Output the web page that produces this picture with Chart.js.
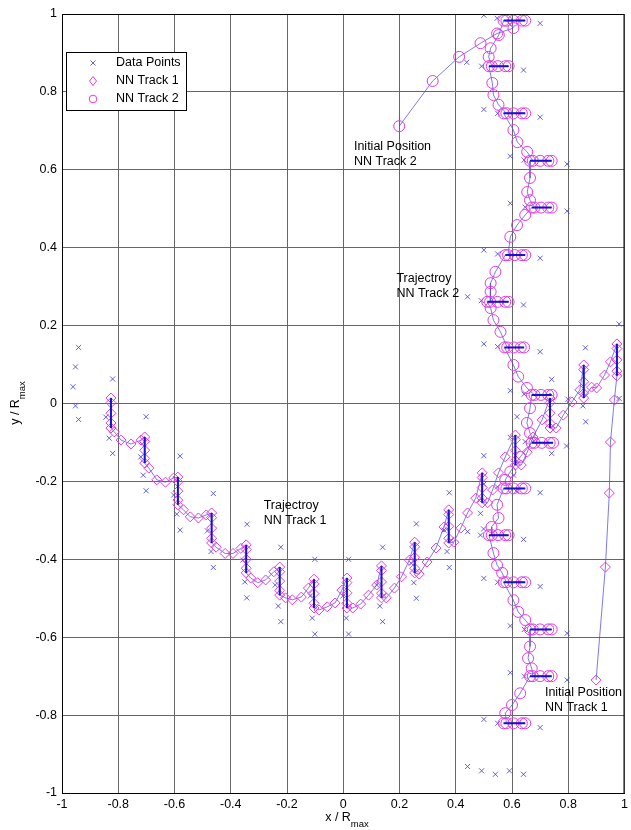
<!DOCTYPE html>
<html>
<head>
<meta charset="utf-8">
<script src="https://cdn.jsdelivr.net/npm/chart.js@4.4.0/dist/chart.umd.min.js"></script>
<style>
  html, body { margin: 0; padding: 0; background: #fff; }
</style>
</head>
<body>
<canvas id="my-chart" width="631" height="830"></canvas>
<script>
const xTickLabels = ['-1', '-0.8', '-0.6', '-0.4', '-0.2', '0', '0.2', '0.4', '0.6', '0.8', '1'];
const yTickLabels = ['-1', '-0.8', '-0.6', '-0.4', '-0.2', '0', '0.2', '0.4', '0.6', '0.8', '1'];

// measured positions (x marks)
const crossX = [
  -0.941, -0.952, -0.961, -0.952, -0.941,
  -0.820, -0.844, -0.832, -0.820,
  -0.701, -0.720, -0.711, -0.701,
  -0.580, -0.603, -0.592, -0.580,
  -0.462, -0.483, -0.470, -0.462,
  -0.342, -0.357, -0.350, -0.343,
  -0.222, -0.242, -0.231, -0.222,
  -0.101, -0.117, -0.110, -0.101,
  0.019, -0.001, 0.011, 0.019,
  0.140, 0.119, 0.130, 0.140,
  0.260, 0.242, 0.251, 0.260,
  0.377, 0.358, 0.369, 0.377,
  0.500, 0.488, 0.499,
  0.618, 0.606, 0.615,
  0.741, 0.741,
  0.861, 0.852, 0.862,
  0.981, 0.981,
  0.500, 0.547, 0.700,
  0.439, 0.492, 0.641,
  0.500, 0.549, 0.700,
  0.594, 0.643, 0.796,
  0.594, 0.647, 0.796,
  0.500, 0.549, 0.700,
  0.442, 0.491, 0.641,
  0.500, 0.549, 0.700,
  0.594, 0.643, 0.799,
  0.594, 0.647, 0.794,
  0.500, 0.548, 0.700,
  0.442, 0.488, 0.641,
  0.500, 0.549, 0.700,
  0.594, 0.644, 0.796,
  0.594, 0.644, 0.796,
  0.500, 0.549, 0.700,
  0.442, 0.492, 0.541, 0.591, 0.641
];
const crossY = [
  0.144, 0.094, 0.043, -0.006, -0.041,
  0.063, -0.035, -0.089, -0.128,
  -0.034, -0.137, -0.184, -0.224,
  -0.135, -0.235, -0.284, -0.325,
  -0.231, -0.327, -0.380, -0.421,
  -0.310, -0.402, -0.458, -0.499,
  -0.369, -0.466, -0.520, -0.560,
  -0.400, -0.494, -0.551, -0.592,
  -0.400, -0.494, -0.551, -0.592,
  -0.369, -0.466, -0.520, -0.560,
  -0.309, -0.410, -0.460, -0.500,
  -0.229, -0.325, -0.380, -0.421,
  -0.134, -0.282, -0.322,
  -0.034, -0.184, -0.225,
  0.062, -0.128,
  0.143, -0.006, -0.047,
  0.204, 0.013,
  0.997, 0.989, 0.976,
  0.876, 0.866, 0.856,
  0.755, 0.745, 0.735,
  0.635, 0.625, 0.615,
  0.514, 0.504, 0.494,
  0.394, 0.384, 0.373,
  0.274, 0.264, 0.253,
  0.153, 0.146, 0.133,
  0.033, 0.024, 0.011,
  -0.087, -0.098, -0.109,
  -0.207, -0.214, -0.229,
  -0.329, -0.338, -0.349,
  -0.449, -0.459, -0.470,
  -0.571, -0.580, -0.590,
  -0.691, -0.700, -0.710,
  -0.811, -0.821, -0.832,
  -0.932, -0.943, -0.952, -0.943, -0.952
];

// NN track 1: vertical stacks at each station, then steps to the next station
const t1StationX = [-0.826, -0.706, -0.588, -0.468, -0.345, -0.226, -0.104, 0.013,
  0.136, 0.254, 0.375, 0.494, 0.612, 0.735, 0.855, 0.973];
const t1StackY = [
  [0.014, 0.002, -0.025, -0.050, -0.063],
  [-0.086, -0.098, -0.120, -0.141, -0.153],
  [-0.189, -0.201, -0.225, -0.248, -0.260],
  [-0.281, -0.293, -0.320, -0.346, -0.358],
  [-0.363, -0.375, -0.400, -0.423, -0.435],
  [-0.420, -0.432, -0.456, -0.480, -0.492],
  [-0.451, -0.463, -0.488, -0.513, -0.525],
  [-0.448, -0.460, -0.486, -0.513, -0.525],
  [-0.417, -0.429, -0.458, -0.487, -0.499],
  [-0.356, -0.368, -0.395, -0.423, -0.435],
  [-0.273, -0.285, -0.315, -0.346, -0.358],
  [-0.178, -0.190, -0.216, -0.243, -0.255],
  [-0.081, -0.093, -0.120, -0.146, -0.158],
  [0.014, 0.002, -0.025, -0.051, -0.063],
  [0.099, 0.087, 0.056, 0.026, 0.014],
  [0.153, 0.141, 0.112, 0.083, 0.071]
];
const t1StepX = [
  [-0.814, -0.790, -0.755, -0.719],
  [-0.691, -0.663, -0.632, -0.603],
  [-0.568, -0.544, -0.515, -0.487],
  [-0.452, -0.420, -0.392, -0.364],
  [-0.329, -0.304, -0.276, -0.247],
  [-0.205, -0.181, -0.149, -0.124],
  [-0.086, -0.057, -0.029, -0.005],
  [0.034, 0.062, 0.090, 0.119],
  [0.153, 0.182, 0.207, 0.235],
  [0.270, 0.298, 0.330, 0.358],
  [0.393, 0.418, 0.442, 0.471],
  [0.513, 0.531, 0.552, 0.576],
  [0.633, 0.654, 0.675, 0.707],
  [0.757, 0.782, 0.813, 0.841],
  [0.883, 0.901, 0.929, 0.950]
];
const t1StepY = [
  [-0.073, -0.094, -0.104, -0.094],
  [-0.166, -0.196, -0.202, -0.191],
  [-0.273, -0.291, -0.294, -0.286],
  [-0.369, -0.385, -0.385, -0.372],
  [-0.448, -0.460, -0.453, -0.432],
  [-0.499, -0.504, -0.497, -0.474],
  [-0.530, -0.522, -0.512, -0.479],
  [-0.525, -0.515, -0.492, -0.466],
  [-0.499, -0.474, -0.445, -0.402],
  [-0.438, -0.407, -0.371, -0.317],
  [-0.356, -0.320, -0.281, -0.243],
  [-0.255, -0.222, -0.178, -0.137],
  [-0.158, -0.125, -0.086, -0.042],
  [-0.063, -0.030, 0.004, 0.035],
  [0.042, 0.040, 0.073, 0.107]
];
const t1StartX = [0.964, 0.950, 0.946, 0.932, 0.899];
const t1StartY = [0.009, -0.099, -0.230, -0.420, -0.710];

// NN track 2: horizontal stacks at each station
const t2StationY = [0.983, 0.866, 0.745, 0.623, 0.503, 0.381, 0.261, 0.144,
  0.022, -0.101, -0.218, -0.338, -0.459, -0.580, -0.700, -0.821];
const t2StackX = [
  [0.580, 0.647, 0.635, 0.605, 0.570],
  [0.528, 0.588, 0.576, 0.550, 0.518],
  [0.580, 0.647, 0.635, 0.605, 0.570],
  [0.674, 0.741, 0.729, 0.700, 0.664],
  [0.680, 0.741, 0.729, 0.703, 0.670],
  [0.586, 0.647, 0.635, 0.610, 0.576],
  [0.522, 0.588, 0.576, 0.548, 0.512],
  [0.583, 0.643, 0.631, 0.606, 0.573],
  [0.680, 0.741, 0.729, 0.703, 0.670],
  [0.680, 0.746, 0.734, 0.706, 0.670],
  [0.580, 0.647, 0.635, 0.605, 0.570],
  [0.528, 0.588, 0.576, 0.550, 0.518],
  [0.580, 0.647, 0.635, 0.605, 0.570],
  [0.674, 0.741, 0.729, 0.700, 0.664],
  [0.674, 0.741, 0.729, 0.700, 0.664],
  [0.580, 0.647, 0.635, 0.605, 0.570]
];
const t2StepX = [
  [0.553, 0.524, 0.517],
  [0.530, 0.534, 0.552],
  [0.605, 0.619, 0.654],
  [0.664, 0.654, 0.664],
  [0.647, 0.618, 0.594],
  [0.541, 0.524, 0.524],
  [0.524, 0.534, 0.559],
  [0.605, 0.622, 0.653],
  [0.664, 0.653, 0.664],
  [0.629, 0.594, 0.576],
  [0.547, 0.552, 0.527],
  [0.534, 0.547, 0.565],
  [0.605, 0.622, 0.647],
  [0.664, 0.657, 0.670],
  [0.629, 0.600, 0.576]
];
const t2StepY = [
  [0.946, 0.912, 0.890],
  [0.823, 0.792, 0.767],
  [0.702, 0.671, 0.646],
  [0.579, 0.543, 0.522],
  [0.484, 0.458, 0.428],
  [0.338, 0.309, 0.287],
  [0.245, 0.214, 0.184],
  [0.099, 0.069, 0.040],
  [-0.012, -0.050, -0.076],
  [-0.137, -0.175, -0.196],
  [-0.260, -0.294, -0.317],
  [-0.384, -0.415, -0.435],
  [-0.505, -0.535, -0.556],
  [-0.624, -0.654, -0.680],
  [-0.744, -0.774, -0.795]
];
const t2StartX = [0.199, 0.318, 0.412, 0.488, 0.547, 0.605];
const t2StartY = [0.712, 0.828, 0.890, 0.925, 0.950, 0.964];

const notes = [
  { lines: ['Initial Position', 'NN Track 2'], x: 0.038, y: 0.659 },
  { lines: ['Trajectroy', 'NN Track 2'], x: 0.189, y: 0.322 },
  { lines: ['Trajectroy', 'NN Track 1'], x: -0.283, y: -0.261 },
  { lines: ['Initial Position', 'NN Track 1'], x: 0.717, y: -0.743 }
];

const FONT = '"Liberation Sans", Arial, Helvetica, sans-serif';
const MAGENTA = '#e23be2';
const THIN = 'rgba(80, 80, 235, 0.85)';
const CROSS = 'rgba(70, 70, 215, 0.85)';
const DARK = '#1414c8';

// build point lists
const crossPts = crossX.map((x, i) => ({ x: x, y: crossY[i] }));

const track1 = [];
const track1Bars = [];
t1StationX.forEach((sx, i) => {
  t1StackY[i].forEach(y => track1.push({ x: sx, y: y }));
  track1Bars.push({ x: sx, y: t1StackY[i][0] }, { x: sx, y: t1StackY[i][4] }, { x: sx, y: null });
  if (i < t1StepX.length) {
    t1StepX[i].forEach((x, j) => track1.push({ x: x, y: t1StepY[i][j] }));
  }
});
t1StartX.forEach((x, i) => track1.push({ x: x, y: t1StartY[i] }));

const track2 = t2StartX.map((x, i) => ({ x: x, y: t2StartY[i] }));
const track2Bars = [];
t2StationY.forEach((sy, i) => {
  t2StackX[i].forEach(x => track2.push({ x: x, y: sy }));
  track2Bars.push({ x: t2StackX[i][4], y: sy }, { x: t2StackX[i][1], y: sy }, { x: t2StackX[i][4], y: null });
  if (i < t2StepX.length) {
    t2StepX[i].forEach((x, j) => track2.push({ x: x, y: t2StepY[i][j] }));
  }
});

const extras = {
  id: 'extras',
  afterDraw(chart) {
    const ctx = chart.ctx;
    const a = chart.chartArea;
    const xs = chart.scales.x, ys = chart.scales.y;
    ctx.save();

    // plot frame
    ctx.strokeStyle = '#000';
    ctx.lineWidth = 1;
    ctx.strokeRect(a.left + 0.5, a.top + 0.5, a.right - a.left - 1, a.bottom - a.top);

    // annotations
    ctx.fillStyle = '#000';
    ctx.font = '12.5px ' + FONT;
    ctx.textBaseline = 'middle';
    ctx.textAlign = 'left';
    notes.forEach(n => {
      const px = xs.getPixelForValue(n.x);
      const py = ys.getPixelForValue(n.y);
      n.lines.forEach((t, k) => ctx.fillText(t, px, py + k * 15));
    });

    // legend
    const lx = 66, ly = 52, lw = 120, lh = 58;
    ctx.fillStyle = '#fff';
    ctx.fillRect(lx, ly, lw, lh);
    ctx.strokeStyle = '#000';
    ctx.strokeRect(lx + 0.5, ly + 0.5, lw, lh);
    const rows = [
      { label: 'Data Points', y: 63 },
      { label: 'NN Track 1', y: 81 },
      { label: 'NN Track 2', y: 99 }
    ];
    const mx = 93;
    ctx.lineWidth = 1;
    // cross
    ctx.strokeStyle = CROSS;
    ctx.beginPath();
    ctx.moveTo(mx - 2.5, rows[0].y - 2.5); ctx.lineTo(mx + 2.5, rows[0].y + 2.5);
    ctx.moveTo(mx - 2.5, rows[0].y + 2.5); ctx.lineTo(mx + 2.5, rows[0].y - 2.5);
    ctx.stroke();
    // diamond
    ctx.strokeStyle = MAGENTA;
    ctx.beginPath();
    ctx.moveTo(mx, rows[1].y - 4.5); ctx.lineTo(mx + 3.5, rows[1].y);
    ctx.lineTo(mx, rows[1].y + 4.5); ctx.lineTo(mx - 3.5, rows[1].y);
    ctx.closePath();
    ctx.stroke();
    // circle
    ctx.beginPath();
    ctx.arc(mx, rows[2].y, 3.8, 0, Math.PI * 2);
    ctx.stroke();
    ctx.fillStyle = '#000';
    rows.forEach(r => ctx.fillText(r.label, 116, r.y));

    // axis titles with "max" subscript
    const mainFont = '12.5px ' + FONT, subFont = '9.5px ' + FONT;
    function titleAt(prefix, cx, cy) {
      ctx.font = mainFont;
      const w1 = ctx.measureText(prefix).width;
      ctx.font = subFont;
      const w2 = ctx.measureText('max').width;
      const start = cx - (w1 + w2) / 2;
      ctx.font = mainFont;
      ctx.fillText(prefix, start, cy);
      ctx.font = subFont;
      ctx.fillText('max', start + w1, cy + 6);
    }
    titleAt('x / R', 347, 818);
    ctx.save();
    ctx.translate(17, 403);
    ctx.rotate(-Math.PI / 2);
    titleAt('y / R', 0, -1);
    ctx.restore();

    ctx.restore();
  }
};

Chart.defaults.font.family = FONT;
Chart.defaults.font.size = 12.5;
Chart.defaults.color = '#000';

const ctx = document.getElementById('my-chart').getContext('2d');
const chart = new Chart(ctx, {
  type: 'scatter',
  data: {
    datasets: [
      {
        label: 'Track 1 stations',
        data: track1Bars,
        showLine: true,
        spanGaps: false,
        borderColor: DARK,
        borderWidth: 2,
        pointRadius: 0,
        order: 0
      },
      {
        label: 'Track 2 stations',
        data: track2Bars,
        showLine: true,
        spanGaps: false,
        borderColor: DARK,
        borderWidth: 2,
        pointRadius: 0,
        order: 0
      },
      {
        label: 'NN Track 1',
        data: track1,
        showLine: true,
        borderColor: THIN,
        borderWidth: 0.9,
        pointStyle: 'rectRot',
        pointRadius: 5,
        pointBorderColor: MAGENTA,
        pointBackgroundColor: 'rgba(0,0,0,0)',
        pointBorderWidth: 1,
        order: 1
      },
      {
        label: 'NN Track 2',
        data: track2,
        showLine: true,
        borderColor: THIN,
        borderWidth: 0.9,
        pointStyle: 'circle',
        pointRadius: 5.5,
        pointBorderColor: MAGENTA,
        pointBackgroundColor: 'rgba(0,0,0,0)',
        pointBorderWidth: 1,
        order: 2
      },
      {
        label: 'Data Points',
        data: crossPts,
        showLine: false,
        pointStyle: 'crossRot',
        pointRadius: 3.6,
        pointBorderColor: CROSS,
        pointBorderWidth: 1,
        order: 3
      }
    ]
  },
  options: {
    responsive: false,
    animation: false,
    devicePixelRatio: 1,
    layout: { padding: { top: 14, right: 1, bottom: 0, left: 0 } },
    plugins: {
      legend: { display: false },
      tooltip: { enabled: false }
    },
    scales: {
      x: {
        type: 'linear',
        min: -1,
        max: 1,
        ticks: {
          stepSize: 0.2,
          autoSkip: false,
          maxRotation: 0,
          padding: 4,
          callback: (v, i) => xTickLabels[i]
        },
        grid: { color: '#666', lineWidth: 1, drawTicks: false },
        border: { color: '#000' },
        afterFit(s) { s.height = 37; s.paddingLeft = 0; s.paddingRight = 0; }
      },
      y: {
        type: 'linear',
        min: -1,
        max: 1,
        ticks: {
          stepSize: 0.2,
          autoSkip: false,
          padding: 5,
          callback: (v, i) => yTickLabels[i]
        },
        grid: { color: '#666', lineWidth: 1, drawTicks: false },
        border: { color: '#000' },
        afterFit(s) { s.width = 62; s.paddingTop = 0; s.paddingBottom = 0; }
      }
    }
  },
  plugins: [extras]
});
</script>
</body>
</html>
